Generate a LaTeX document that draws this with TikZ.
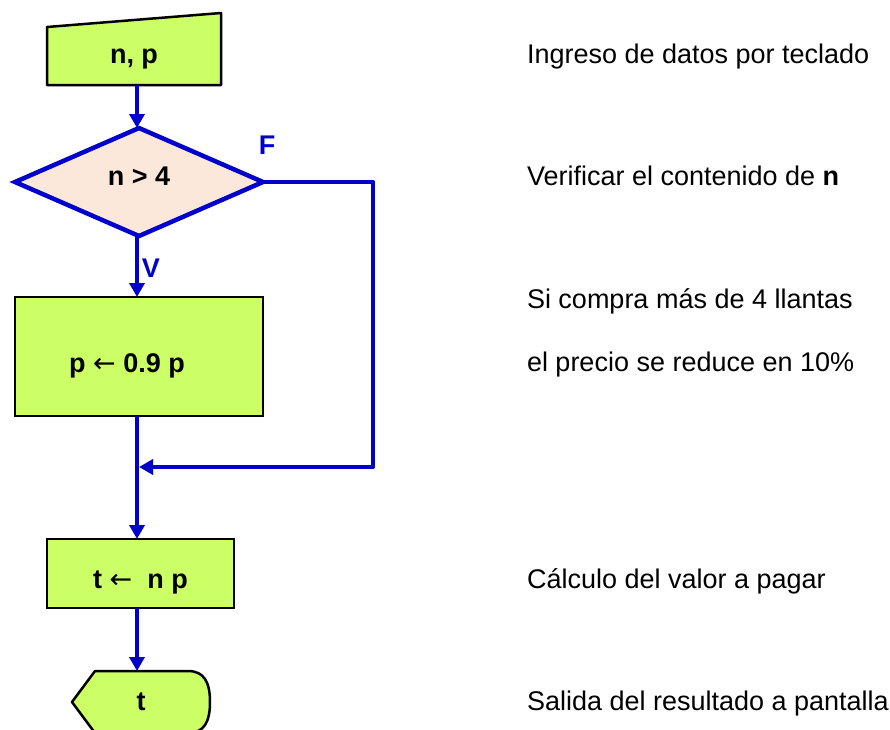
\documentclass[tikz,border=0pt]{standalone}
\usepackage{fontspec}
\setmainfont{Liberation Sans}
\newfontfamily\arrowfont{DejaVu Sans}
\usetikzlibrary{arrows.meta,calc,shapes.geometric,backgrounds}
\definecolor{flowblue}{RGB}{0,0,204}
\definecolor{boxgreen}{RGB}{204,255,102}
\definecolor{peach}{RGB}{252,232,218}
\newcommand{\larr}{{\arrowfont\mdseries ←}}
\begin{document}
\begin{tikzpicture}[x=1pt,y=-1pt,
  every node/.style={font=\fontsize{27}{32}\selectfont, inner sep=0pt, outer sep=0pt},
  boldtxt/.style={font=\fontsize{27}{32}\selectfont\bfseries},
  procbox/.style={rectangle, draw=black, line width=2.5pt, fill=boxgreen, boldtxt},
  shapeline/.style={draw=black, line width=2.5pt, fill=boxgreen, line join=round},
  flow/.style={draw=flowblue, line width=4pt, line join=round},
  arr/.style={flow, -{Triangle[length=14pt,width=15pt]}},
  flowlabel/.style={text=flowblue, boldtxt, anchor=base},
  note/.style={anchor=base west}
]
\useasboundingbox (0,0) rectangle (890,729);
\coordinate (col) at (137,0);

% manual input
\node[boldtxt, minimum width=174, minimum height=58, text height=14pt, text depth=0pt] (inp) at (134,56) {n, p};
% decision
\node[diamond, draw=flowblue, line width=4.5pt, fill=peach, boldtxt,
      minimum width=248, minimum height=108, text height=6pt, text depth=0pt] (dia) at (139,182) {n > 4};
% process p
\node[procbox, minimum width=248, minimum height=119, text height=31pt, text depth=0pt] (pb) at (139,356.5) {p \larr{} 0.9 p\hspace*{24pt}};
% process t
\node[procbox, minimum width=187, minimum height=69, text height=29pt, text depth=0pt] (tb) at (140.5,573.5) {t \larr\ \ n p};
% display
\node[boldtxt, minimum width=138, minimum height=62, text height=16pt, text depth=0pt] (disp) at (141,702) {t};

\begin{scope}[on background layer]
  \path[shapeline] (inp.south west) -- (inp.north west) -- ($(inp.north east)+(0,-14)$) -- (inp.south east) -- cycle;
  \path[shapeline] (disp.west) -- ($(disp.north west)+(23,0)$) -- ($(disp.north east)+(-22,0)$)
     .. controls ($(disp.north east)+(-6,0)$) and ($(disp.east)+(0,-20)$) .. (disp.east)
     .. controls ($(disp.east)+(0,20)$) and ($(disp.south east)+(-6,0)$) .. ($(disp.south east)+(-22,0)$)
     -- ($(disp.south west)+(23,0)$) -- cycle;
\end{scope}

% connectors
\coordinate (fr) at (373,467);
\coordinate (merge) at (139,467);
\draw[arr] (inp.south -| col) -- (dia.north -| col);
\draw[arr] (dia.south -| col) -- (pb.north -| col);
\draw[arr] (pb.south -| col) -- (tb.north -| col);
\draw[arr] (tb.south -| col) -- (disp.north -| col);
\draw[arr] (dia.east) -| (fr) -- (merge);

% branch labels
\node[flowlabel] (lf) at (267,154) {F};
\node[flowlabel] (lv) at (151,277) {V};

% notes
\node[note] (n1) at (527,63) {Ingreso de datos por teclado};
\node[note] (n2) at (527,185) {Verificar el contenido de \textbf{n}};
\node[note] (n3) at (527,308) {Si compra más de 4 llantas};
\node[note] (n4) at (527,371) {el precio se reduce en 10\%};
\node[note] (n5) at (527,588) {Cálculo del valor a pagar};
\node[note] (n6) at (527,710) {Salida del resultado a pantalla};
\end{tikzpicture}
\end{document}
